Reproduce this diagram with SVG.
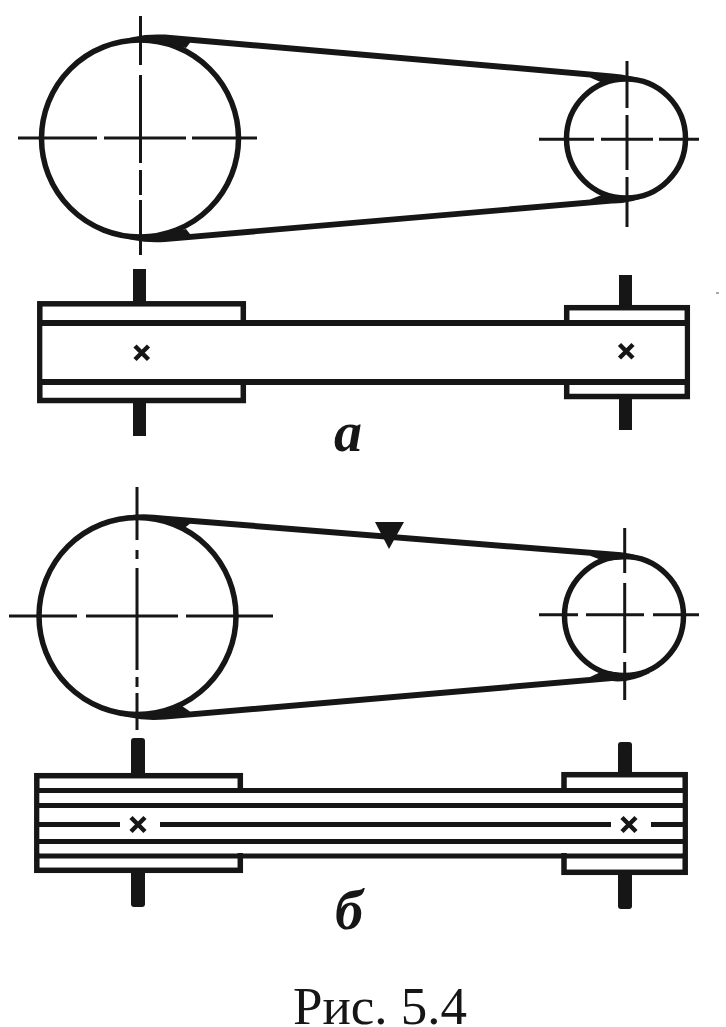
<svg xmlns="http://www.w3.org/2000/svg" width="726" height="1027" viewBox="0 0 726 1027">
<style>
.o{fill:none;stroke:#161616;stroke-width:5.5}
.h{fill:#fff;stroke:#161616;stroke-width:5.5}
.c{fill:none;stroke:#161616;stroke-width:3}
.s{fill:#161616}
.x{fill:none;stroke:#161616;stroke-width:4.5}
.l{fill:none;stroke:#161616;stroke-width:5}
.t{fill:#161616;font-family:"Liberation Serif","Times New Roman",serif}
.i{font-style:italic;font-weight:bold;font-size:56px}
</style>
<rect width="726" height="1027" fill="#fff"/>
<g id="view-a-side">
<circle id="pulley-a-large" class="o" cx="140" cy="138.5" r="98.5"/>
<circle id="pulley-a-small" class="o" cx="626" cy="138.5" r="59.5"/>
<path id="centre-a-large" class="c" d="M18 138H97M104 138H186M192 138H257M140.5 16V65M140.5 75V163M140.5 170V195M140.5 200V255"/>
<path id="centre-a-small" class="c" d="M539 139.3H594M601 139.3H653M659 139.3H699M627 61V108M627 115V170M627 177V227"/>
</g>
<g id="connectors">
<path id="belt-a-top" class="s" d="M112 44Q135 33 165 34.600L612 73.400Q630 74.500 650 82L626 80L604 83.500L590 77.500L190 42.700L186 48L165 43L140 40Z"/>
<path id="belt-a-bottom" class="s" d="M112 233Q135 244 165 242L612 203.600Q630 204 650 195L626 197L604 194L590 199.500L190 233.900L186 229L165 234L140 236Z"/>
<path id="belt-b-top" class="s" d="M109 521Q130 511 165 515.800L612 551.600Q630 552 650 560L626 559L604 561L590 555.800L190 523.800L185 527.500L165 521L137 518Z"/>
<path id="belt-b-bottom" class="s" d="M109 710Q130 722 165 719.600L612 681.100Q630 683 650 673L626 674L604 670.500L590 677L190 711.400L182 706L165 711L137 713Z"/>
</g>
<g id="view-a-plan">
<rect class="s" x="133" y="269" width="13" height="167"/>
<rect class="s" x="619" y="275" width="13" height="155"/>
<rect class="h" x="39.800" y="303.800" width="203.500" height="96.700"/>
<rect class="h" x="566.700" y="307.700" width="120.600" height="88.800"/>
<rect x="42.600" y="323" width="642" height="59" fill="#fff"/>
<path class="l" d="M40 323H688M40 382H688" style="stroke-width:6"/>
<path class="x" d="M135 346L148.500 359.500M148.500 346L135 359.500"/>
<path class="x" d="M619.500 344.500L633 358M633 344.500L619.500 358"/>
</g>
<g id="label-a"><text class="t i" x="334" y="451">а</text></g>
<path id="speck" d="M716 293H719" stroke="#555" stroke-width="1"/>
<g id="view-b-side">
<circle id="pulley-b-large" class="o" cx="137.500" cy="616" r="98.500"/>
<circle id="pulley-b-small" class="o" cx="624" cy="616" r="59.500"/>
<path id="centre-b-large" class="c" d="M9 616H77M86 616H178M186 616H273M137 487V540M137 550V559M137 568V670M137 677V687M137 693V730"/>
<path id="centre-b-small" class="c" d="M539 614.700H578M586 614.700H644M653 614.700H699M624.700 528V573M624.700 583V653M624.700 662V700"/>
<polygon id="direction-arrow" class="s" points="375,522 404,522 389,549"/>
</g>
<g id="view-b-plan">
<rect class="s" x="131" y="738" width="14" height="169" rx="3"/>
<rect class="s" x="618" y="742" width="14" height="167" rx="3"/>
<rect class="h" x="36.800" y="775.700" width="203.500" height="94.600"/>
<rect class="h" x="564" y="774.700" width="121.200" height="97.600"/>
<rect x="39.600" y="793" width="642.800" height="60" fill="#fff"/>
<path class="l" d="M37 790.500H685M37 805.500H685M37 841.500H685M37 856H685"/>
<path class="l" d="M37 824.500H120M160 824.500H611M651 824.500H685"/>
<path class="x" d="M131 817.500L145 831.500M145 817.500L131 831.500"/>
<path class="x" d="M622 817.500L636 831.500M636 817.500L622 831.500"/>
</g>
<g id="label-b"><text class="t i" x="335" y="929">б</text></g>
<g id="caption"><text class="t" x="293" y="1024" font-size="53">Рис. 5.4</text></g>
</svg>
